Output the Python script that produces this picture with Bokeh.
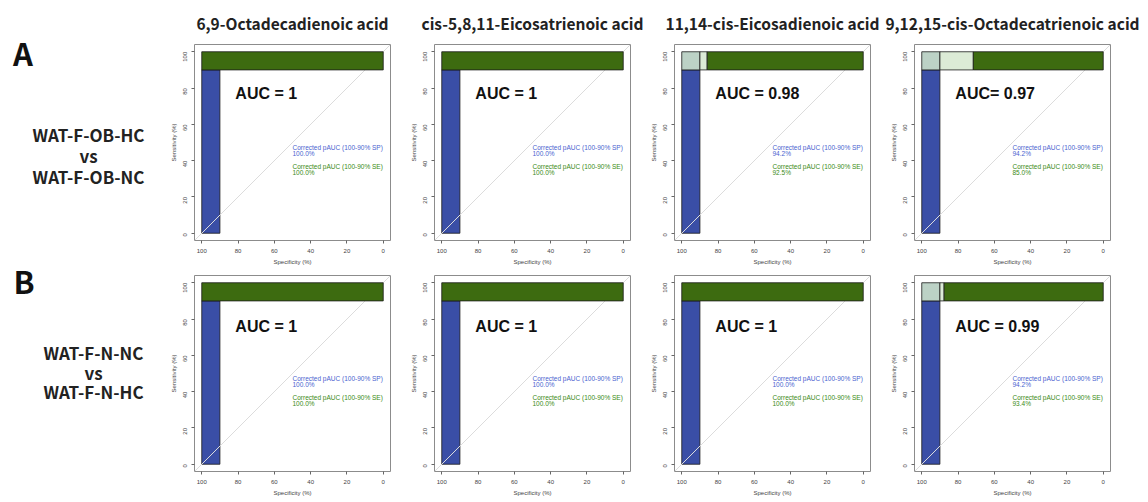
import math
from bokeh.plotting import figure
from bokeh.layouts import row, column
from bokeh.models import Range1d, FixedTicker
from bokeh.core.properties import value
from bokeh.embed import file_html
from bokeh.resources import INLINE

# ---------------- data ----------------
compounds = ["6,9-Octadecadienoic acid", "cis-5,8,11-Eicosatrienoic acid",
             "11,14-cis-Eicosadienoic acid", "9,12,15-cis-Octadecatrienoic acid"]
panel_letters = ["A", "B"]
group_first = ["WAT-F-OB-HC", "WAT-F-N-NC"]
group_second = ["WAT-F-OB-NC", "WAT-F-N-HC"]
auc_labels = [["AUC = 1", "AUC = 1", "AUC = 0.98", "AUC= 0.97"],
              ["AUC = 1", "AUC = 1", "AUC = 1", "AUC = 0.99"]]
pauc_sp = [[100.0, 100.0, 94.2, 94.2],
           [100.0, 100.0, 100.0, 94.2]]
pauc_se = [[100.0, 100.0, 92.5, 85.0],
           [100.0, 100.0, 100.0, 93.4]]
# specificity (%) at which sensitivity first reaches 100% on the ROC curve
full_se_spec = [[100.0, 100.0, 86.0, 71.6],
                [100.0, 100.0, 100.0, 87.7]]
sp_limit = 90.0   # partial AUC specificity bound (100-90% SP)
se_limit = 90.0   # partial AUC sensitivity bound (100-90% SE)
ticks = [0, 20, 40, 60, 80, 100]

# ---------------- style / layout ----------------
BLUE = "#3a4ea6"
DKGREEN = "#3d6b10"
LTGREEN = "#dcebd6"
OVERLAP = "#bcd2c6"
TXT_BLUE = "#4a5fcf"
TXT_GREEN = "#3a8a14"
FONT = "Liberation Sans"
HEAD_FONT = "Noto Sans CJK SC"

PAGE_W = 1148
FL, FW, FR = 43, 196, 1
FT, FH, FB = 8, 196, 27
PW = FL + FW + FR
PH = FT + FH + FB
LEFT_W = 151
TITLE_H = 36
AUC_Y = [77.0, 76.0]


def make_panel(r, c):
    p = figure(width=PW, height=PH, x_range=Range1d(104, -4), y_range=Range1d(-4, 104),
               output_backend="svg", toolbar_location=None,
               min_border_left=FL, min_border_right=FR, min_border_top=FT, min_border_bottom=FB)
    p.xgrid.visible = False
    p.ygrid.visible = False
    p.outline_line_color = "#8c8c8c"
    p.outline_line_width = 1
    p.background_fill_color = "white"
    p.border_fill_color = "white"

    for ax in (p.xaxis[0], p.yaxis[0]):
        ax.ticker = FixedTicker(ticks=ticks)
        ax.axis_line_color = None
        ax.major_tick_line_color = "#666666"
        ax.major_tick_in = 0
        ax.major_tick_out = 3
        ax.minor_tick_line_color = None
        ax.major_label_text_font = FONT
        ax.major_label_text_font_size = "6px"
        ax.major_label_text_color = "#444444"
        ax.axis_label_text_font = FONT
        ax.axis_label_text_font_size = "6px"
        ax.axis_label_text_font_style = "normal"
        ax.axis_label_text_color = "#444444"
    p.xaxis.axis_label = "Specificity (%)"
    p.yaxis.axis_label = "Sensitivity (%)"
    p.xaxis.major_label_standoff = 5
    p.xaxis.axis_label_standoff = 3
    p.yaxis.major_label_orientation = math.pi / 2
    p.yaxis.major_label_standoff = 6
    p.yaxis.axis_label_standoff = 2

    xr = p.x_range
    se_start = full_se_spec[r][c]

    # partial AUC region for 100-90% specificity (blue)
    p.quad(left=[100], right=[sp_limit], bottom=[0], top=[se_limit],
           fill_color=BLUE, line_color="#1a1a1a", line_width=0.8)
    # chance diagonal
    p.line(x=[xr.start, xr.end], y=[100 - xr.start, 100 - xr.end], line_color="#dcdcdc", line_width=1)
    # partial AUC region for 100-90% sensitivity
    if se_start < 100:
        p.quad(left=[100], right=[sp_limit], bottom=[se_limit], top=[100],
               fill_color=OVERLAP, line_color="#1a1a1a", line_width=0.8)
        p.quad(left=[sp_limit], right=[se_start], bottom=[se_limit], top=[100],
               fill_color=LTGREEN, line_color="#1a1a1a", line_width=0.8)
    p.quad(left=[se_start], right=[0], bottom=[se_limit], top=[100],
           fill_color=DKGREEN, line_color="#1a1a1a", line_width=0.8)

    p.text(x=[81.5], y=[AUC_Y[r]], text=[auc_labels[r][c]], text_font=value(FONT),
           text_font_style="bold", text_font_size="16px", text_baseline="middle",
           text_align="left", text_color="#111111")
    p.text(x=[50, 50], y=[47.4, 43.8],
           text=["Corrected pAUC (100-90% SP)", "%.1f%%" % pauc_sp[r][c]],
           text_font=value(FONT), text_font_size="6.5px", text_baseline="middle",
           text_align="left", text_color=TXT_BLUE)
    p.text(x=[50, 50], y=[37.0, 33.3],
           text=["Corrected pAUC (100-90% SE)", "%.1f%%" % pauc_se[r][c]],
           text_font=value(FONT), text_font_size="6.5px", text_baseline="middle",
           text_align="left", text_color=TXT_GREEN)
    return p


def blank(width, height, xr, yr):
    f = figure(width=width, height=height, x_range=xr, y_range=yr,
               output_backend="svg", toolbar_location=None,
               min_border=0, min_border_left=0, min_border_right=0,
               min_border_top=0, min_border_bottom=0)
    f.axis.visible = False
    f.grid.visible = False
    f.outline_line_color = None
    f.background_fill_color = "white"
    f.border_fill_color = "white"
    return f


TOTAL_H = TITLE_H + 2 * PH
# title band (page pixel coordinates, offset by the left column width)
title_fig = blank(PAGE_W - LEFT_W, TITLE_H, Range1d(LEFT_W, PAGE_W), Range1d(TITLE_H, 0))
title_x = [LEFT_W + i * PW + FL + FW / 2 for i in range(len(compounds))]
title_fig.text(x=title_x, y=[22] * len(compounds), text=compounds,
               text_font=value(HEAD_FONT), text_font_style="bold", text_font_size="15.5px",
               text_align="center", text_baseline="middle", text_color="#222222")

# left label column (page pixel coordinates, full height)
left_fig = blank(LEFT_W, TOTAL_H, Range1d(0, LEFT_W), Range1d(TOTAL_H, 0))
letter_y = [51.5, 279.5]
left_fig.text(x=[22.5, 23.5], y=letter_y, text=panel_letters,
              text_font=value(HEAD_FONT), text_font_style="bold", text_font_size="31px",
              text_align="center", text_baseline="middle", text_color="#111111")
grp_cx = [88, 93]
grp_y = [[134, 155, 176], [352, 372, 391]]
for i in range(2):
    left_fig.text(x=[grp_cx[i]] * 3, y=grp_y[i],
                  text=[group_first[i], "vs", group_second[i]],
                  text_font=value(HEAD_FONT), text_font_style="bold", text_font_size="17px",
                  text_align="center", text_baseline="middle", text_color="#222222")

rowA = row([make_panel(0, c) for c in range(4)], spacing=0)
rowB = row([make_panel(1, c) for c in range(4)], spacing=0)
layout = row(left_fig, column(title_fig, rowA, rowB, spacing=0), spacing=0)

open("out.html", "w").write(file_html(layout, INLINE))
